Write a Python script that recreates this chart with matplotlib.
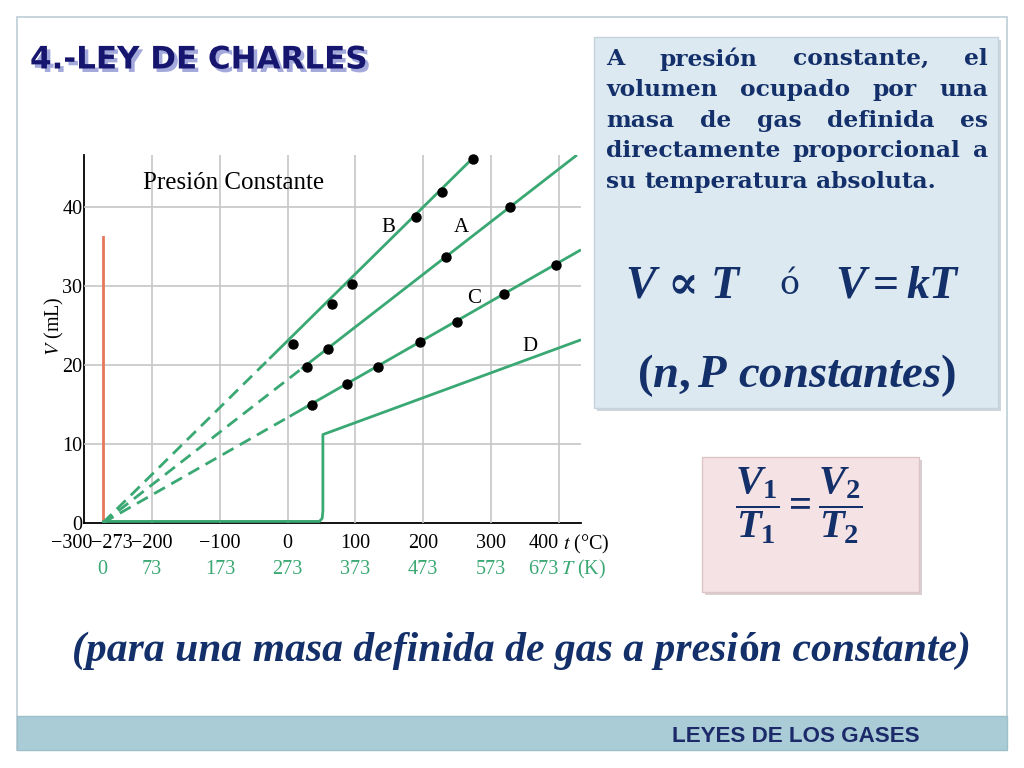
import matplotlib
matplotlib.use("Agg")
import matplotlib.pyplot as plt
import matplotlib.transforms as mtransforms
import matplotlib.patheffects as pe
from matplotlib.patches import Rectangle

plt.rcParams['mathtext.fontset'] = 'custom'
plt.rcParams['mathtext.it'] = 'Liberation Serif:italic:bold'
plt.rcParams['mathtext.rm'] = 'Liberation Serif:bold'
plt.rcParams['mathtext.bf'] = 'Liberation Serif:bold'
plt.rcParams['mathtext.sf'] = 'DejaVu Serif:bold'

# ---- data ----
t_ticks = [-300, -273, -200, -100, 0, 100, 200, 300, 400]
t_labels = ['\u2212300', '\u2212273', '\u2212200', '\u2212100', '0', '100', '200', '300', '400']
k_ticks = [-273, -200, -100, 0, 100, 200, 300, 400]
k_labels = ['0', '73', '173', '273', '373', '473', '573', '673']
v_ticks = [0, 10, 20, 30, 40]

# measured points (t in degC, V in mL)
b_t = [8, 65, 95, 190, 228, 273]
b_v = [22.7, 27.7, 30.3, 38.7, 41.9, 46.1]
a_t = [28, 60, 234, 328]
a_v = [19.8, 22.0, 33.7, 40.0]
c_t = [36, 88, 134, 195, 250, 320, 396]
c_v = [15.0, 17.6, 19.8, 22.9, 25.5, 29.0, 32.7]

# fitted lines: dashed extrapolation then solid part
b_dash_t, b_dash_v = [-273, -27], [0, 20.8]
b_line_t, b_line_v = [-27, 278], [20.8, 46.6]
a_dash_t, a_dash_v = [-273, 20], [0, 19.5]
a_line_t, a_line_v = [20, 427], [19.5, 46.6]
c_dash_t, c_dash_v = [-273, 3], [0, 13.5]
c_line_t, c_line_v = [3, 433], [13.5, 34.6]
d_t = [-273, 47, 51, 52, 52, 433]
d_v = [0.2, 0.2, 0.6, 1.5, 11.2, 23.2]

abs_zero_t = [-273, -273]
abs_zero_v = [0, 36.2]

curve_names = ['B', 'A', 'C', 'D']
name_t = [149, 256, 275, 358]
name_v = [37.4, 37.4, 28.4, 22.4]

box_lines = [
    ['A', 'presión', 'constante,', 'el'],
    ['volumen', 'ocupado', 'por', 'una'],
    ['masa', 'de', 'gas', 'definida', 'es'],
    ['directamente', 'proporcional', 'a'],
    ['su', 'temperatura', 'absoluta.'],
]
note_parts = [('(para una masa definida de gas a presi', 'italic'),
              ('ó', 'normal'),
              ('n constante)', 'italic')]

GREEN = '#3aa873'
NAVY = '#14306a'

fig = plt.figure(figsize=(10.24, 7.68), dpi=100)
fig.patch.set_facecolor('white')

# background axes in pixel coordinates (origin top-left)
bg = fig.add_axes([0, 0, 1, 1])
bg.set_xlim(0, 1024)
bg.set_ylim(768, 0)
bg.axis('off')
renderer = fig.canvas.get_renderer()


def width_of(t):
    return t.get_window_extent(renderer).width


def fit_text(x, y, s, width, fs0=20, **kw):
    t = bg.text(x, y, s, fontsize=fs0, **kw)
    t.set_fontsize(fs0 * width / width_of(t))
    return t


# slide frame and footer band
bg.add_patch(Rectangle((17, 17), 990, 733, fill=False, ec='#bccdd5', lw=1.2))
bg.add_patch(Rectangle((17, 716), 990, 34, fc='#a9ccd6', ec='#9dbfca', lw=1))
fit_text(672, 736, 'LEYES DE LOS GASES', 248, fs0=14, fontweight='bold',
         family='Liberation Sans', color='#1d2a6a', ha='left', va='center')

# title with shadow
fit_text(30, 60, '4.-LEY DE CHARLES', 337, fs0=20, fontweight='bold',
         family='DejaVu Sans', color='#16166e', ha='left', va='center',
         path_effects=[pe.SimplePatchShadow(offset=(2.5, -2.5), shadow_rgbFace='#a4a9dc',
                                            alpha=1.0), pe.Normal()])

# blue text box
bg.add_patch(Rectangle((597, 40), 404, 371, fc='#b8c4cc', ec='none', alpha=0.7))
bg.add_patch(Rectangle((594, 37), 404, 371, fc='#dde9f0', ec='#c5d4dc', lw=1))

# justified paragraph
ref = bg.text(0, 0, 'su temperatura absoluta.', fontsize=16, fontweight='bold',
              family='DejaVu Serif')
fs_box = 16 * 331 / width_of(ref)
ref.remove()
x0, x1 = 606, 988
for i, words in enumerate(box_lines):
    y = 59 + i * 30.8
    objs = [bg.text(0, y, w, fontsize=fs_box, fontweight='bold', family='DejaVu Serif',
                    color=NAVY, ha='left', va='center') for w in words]
    widths = [width_of(o) for o in objs]
    if i == len(box_lines) - 1:
        sp = bg.text(0, 0, 'a a', fontsize=fs_box, fontweight='bold', family='DejaVu Serif')
        sp2 = bg.text(0, 0, 'aa', fontsize=fs_box, fontweight='bold', family='DejaVu Serif')
        gap = width_of(sp) - width_of(sp2)
        sp.remove()
        sp2.remove()
    else:
        gap = (x1 - x0 - sum(widths)) / (len(words) - 1)
    x = x0
    for o, w in zip(objs, widths):
        o.set_x(x)
        x += w + gap

eq = fit_text(835, 285, r'$V = kT$', 126, fs0=26, color=NAVY, ha='left', va='center')
bg.text(625, 285, r'$V\ \mathsf{∝}\ T$', fontsize=eq.get_fontsize(), color=NAVY,
        ha='left', va='center')
bg.text(789, 285, 'ó', fontsize=24, family='DejaVu Serif', color=NAVY, ha='center', va='center')
fit_text(637, 376, r'$(n, P\ constantes)$', 320, fs0=26, color=NAVY, ha='left', va='center')

# pink box with ratio formula
bg.add_patch(Rectangle((705, 460), 217, 135, fc='#c9bcbe', ec='none', alpha=0.7))
bg.add_patch(Rectangle((702, 457), 217, 135, fc='#f5e2e4', ec='#dcc4c8', lw=1))
fit_text(735, 506, r'$\dfrac{V_1}{T_1} = \dfrac{V_2}{T_2}$', 128, fs0=22,
         color=NAVY, ha='left', va='center')

# bottom note, pieces placed side by side and fitted to the width
parts = [bg.text(0, 651, s, fontsize=22, family='Liberation Serif', fontweight='bold',
                 style=st, color=NAVY, ha='left', va='center') for s, st in note_parts]
total = sum(width_of(p) for p in parts)
x = 72
for p in parts:
    p.set_fontsize(22 * 896 / total)
    p.set_x(x)
    x += width_of(p)

# ---- chart ----
ax = fig.add_axes([84.4 / 1024, 1 - 523 / 768, (581 - 84.4) / 1024, (523 - 155) / 768])
ax.set_facecolor('none')
ax.set_xlim(-300, 433)
ax.set_ylim(0, 46.6)
for s in ['top', 'right']:
    ax.spines[s].set_visible(False)
for s in ['left', 'bottom']:
    ax.spines[s].set_linewidth(1.3)
    ax.spines[s].set_zorder(1)

FS = 14.5
ax.set_xticks(t_ticks, t_labels)
ax.set_yticks(v_ticks)
ax.tick_params(length=0, labelsize=FS)
ax.tick_params(axis='x', pad=8)
ax.tick_params(axis='y', pad=1.5)
for lab in ax.get_xticklabels() + ax.get_yticklabels():
    lab.set_family('Liberation Serif')
ax.grid(True, color='#c6c6c6', lw=1.2)
gl = ax.get_xgridlines()
gl[0].set_visible(False)
gl[1].set_visible(False)
ax.get_ygridlines()[0].set_visible(False)

# shift crowded labels like the original
xl = ax.get_xticklabels()
xl[0].set_transform(xl[0].get_transform() + mtransforms.ScaledTranslation(-0.13, 0, fig.dpi_scale_trans))
xl[1].set_transform(xl[1].get_transform() + mtransforms.ScaledTranslation(0.095, 0, fig.dpi_scale_trans))
xl[-1].set_horizontalalignment('right')
ax.annotate(r'$t$ (°C)', xy=(400, 0), xycoords=('data', 'axes fraction'),
            xytext=(4, -21), textcoords='offset pixels', ha='left', va='center',
            fontsize=FS, family='Liberation Serif', math_fontfamily='stix')

for t, lab in zip(k_ticks, k_labels):
    ax.annotate(lab, xy=(t, 0), xycoords=('data', 'axes fraction'),
                xytext=(0, -47), textcoords='offset pixels',
                ha='right' if lab == '673' else 'center', va='center',
                fontsize=FS, family='Liberation Serif', color=GREEN)
ax.annotate(r'$T$ (K)', xy=(400, 0), xycoords=('data', 'axes fraction'),
            xytext=(2, -46), textcoords='offset pixels', ha='left', va='center',
            fontsize=FS, family='Liberation Serif', color=GREEN, math_fontfamily='stix')

ax.set_ylabel(r'$V$ (mL)', fontsize=FS, family='Liberation Serif', math_fontfamily='stix')
ax.yaxis.set_label_coords(-0.037, 0.535)

lw = 2.0
dash = (0, (4.5, 2.6))
for tt, vv in [(b_dash_t, b_dash_v), (a_dash_t, a_dash_v), (c_dash_t, c_dash_v)]:
    ax.plot(tt, vv, color=GREEN, lw=lw, ls=dash, zorder=3)
for tt, vv in [(b_line_t, b_line_v), (a_line_t, a_line_v), (c_line_t, c_line_v), (d_t, d_v)]:
    ax.plot(tt, vv, color=GREEN, lw=lw, zorder=3, solid_capstyle='butt')
ax.plot(abs_zero_t, abs_zero_v, color='#e5785b', lw=2, zorder=2)
for tt, vv in [(b_t, b_v), (a_t, a_v), (c_t, c_v)]:
    ax.plot(tt, vv, 'o', color='black', ms=6.5, zorder=4, clip_on=False)

for n, t, v in zip(curve_names, name_t, name_v):
    ax.text(t, v, n, fontsize=15, family='Liberation Serif', ha='center', va='center')
ax.text(-214, 43.0, 'Presión Constante', fontsize=18, family='Liberation Serif',
        ha='left', va='center')

fig.savefig('out.png', dpi=100)
